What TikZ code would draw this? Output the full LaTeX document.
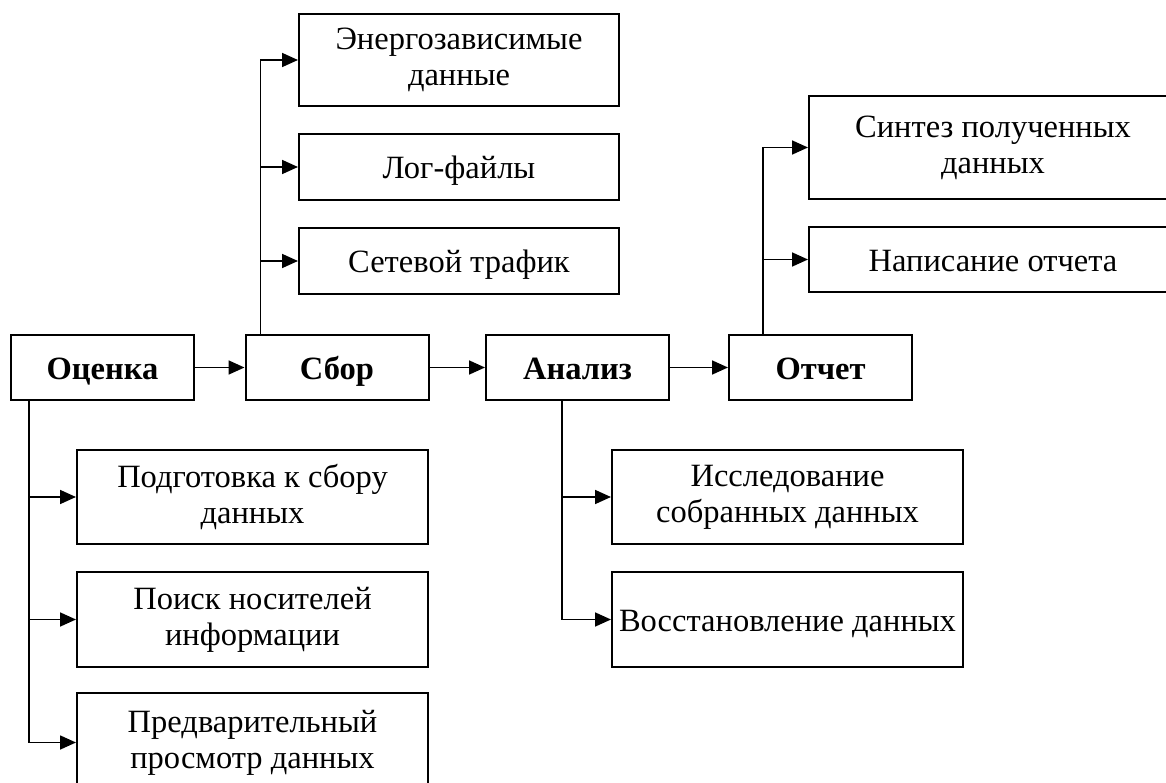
\documentclass[tikz,border=0pt]{standalone}
\usepackage{fontspec}
\setmainfont{Liberation Serif}
\usetikzlibrary{arrows.meta}
\newcommand{\boxstrut}{\rule[-6pt]{0pt}{36pt}}
\begin{document}
\begin{tikzpicture}[x=1pt,y=-1pt,
  box/.style={draw, line width=2pt, align=center, inner sep=0pt,
    font=\fontsize{32.5}{36}\selectfont,
    execute at begin node={\boxstrut}, execute at end node={\boxstrut}},
  mainbox/.style={box, minimum width=183pt, minimum height=65pt,
    font=\fontsize{32.5}{36}\selectfont\bfseries},
  conn/.style={line width=1.7pt},
  arr/.style={conn, -{Triangle[length=16pt,width=14pt]}}]
\useasboundingbox (0,0) rectangle (1166,783);
% main row
\node[mainbox] (ocenka) at (102.5,367.5) {Оценка};
\node[mainbox] (sbor) at (337,367.5) {Сбор};
\node[mainbox] (analiz) at (577.5,367.5) {Анализ};
\node[mainbox] (otchet) at (820.5,367.5) {Отчет};
% collection
\node[box, minimum width=320pt, minimum height=92pt] (energ) at (459,60) {Энергозависимые\\данные};
\node[box, minimum width=320pt, minimum height=66pt] (log) at (459,167) {Лог-файлы};
\node[box, minimum width=320pt, minimum height=66pt] (set) at (459,261) {Сетевой трафик};
% report
\node[box, minimum width=368pt, minimum height=103pt] (sint) at (993,147.5) {Синтез полученных\\данных};
\node[box, minimum width=368pt, minimum height=65pt] (napis) at (993,259.5) {Написание отчета};
% assessment
\node[box, minimum width=351pt, minimum height=94pt] (podg) at (252.5,497) {Подготовка к сбору\\данных};
\node[box, minimum width=351pt, minimum height=95pt] (poisk) at (252.5,619.5) {Поиск носителей\\информации};
\node[box, minimum width=351pt, minimum height=99pt] (predv) at (252.5,742.5) {Предварительный\\просмотр данных};
% analysis
\node[box, minimum width=351pt, minimum height=94pt] (issl) at (787.5,497) {Исследование\\собранных данных};
\node[box, minimum width=351pt, minimum height=95pt] (vosst) at (787.5,619.5) {Восстановление данных};
% main arrows
\draw[arr] (ocenka) -- (sbor);
\draw[arr] (sbor) -- (analiz);
\draw[arr] (analiz) -- (otchet);
% trunks
\coordinate (ob) at ([xshift=19pt]ocenka.south west);
\coordinate (sb) at ([xshift=16pt]sbor.north west);
\coordinate (ab) at ([xshift=77pt]analiz.south west);
\coordinate (rb) at ([xshift=35pt]otchet.north west);
\draw[arr] (ob) |- (podg.west);
\draw[arr] (ob) |- (poisk.west);
\draw[arr] (ob) |- (predv.west);
\draw[arr] (sb) |- (energ.west);
\draw[arr] (sb) |- (log.west);
\draw[arr] (sb) |- (set.west);
\draw[arr] (ab) |- (issl.west);
\draw[arr] (ab) |- (vosst.west);
\draw[arr] (rb) |- (sint.west);
\draw[arr] (rb) |- (napis.west);
\end{tikzpicture}
\end{document}
